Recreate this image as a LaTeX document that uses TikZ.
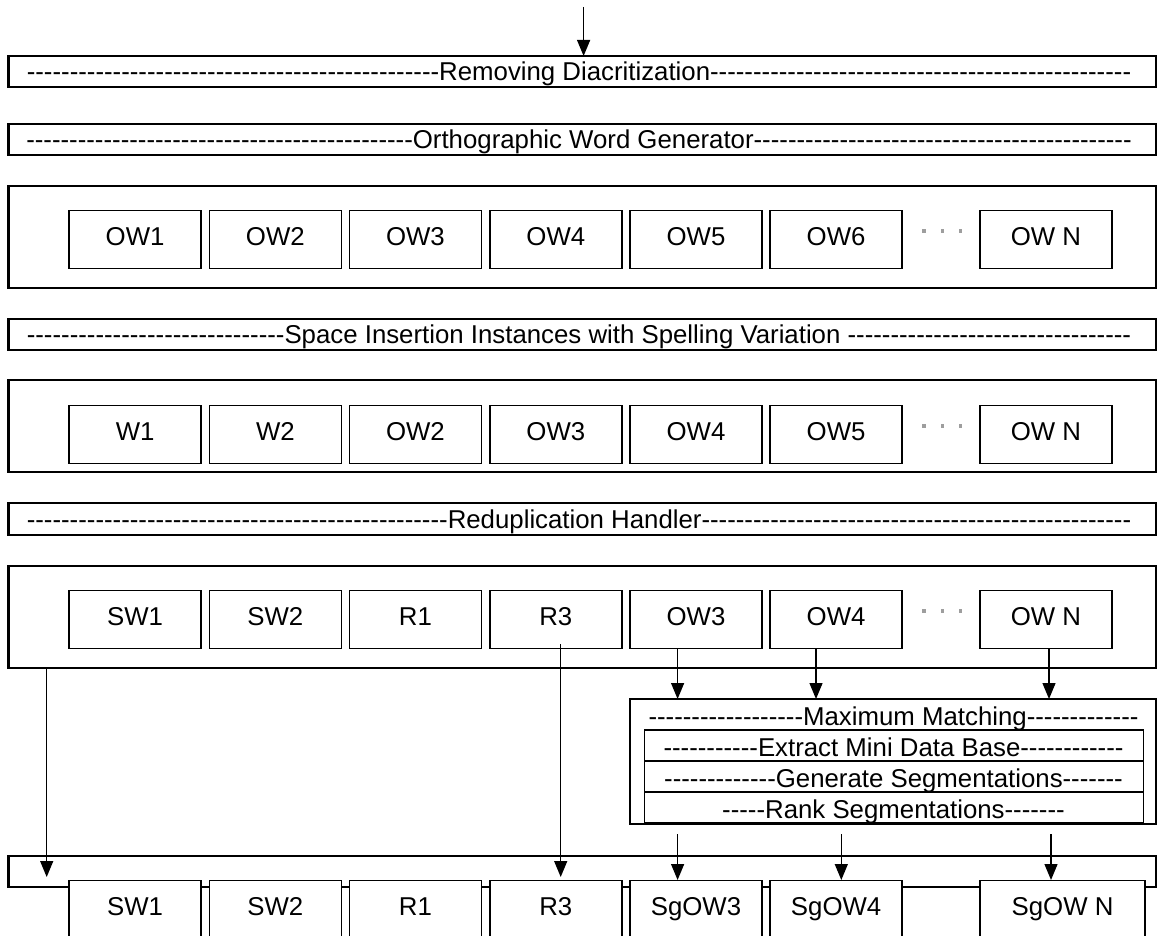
\documentclass[tikz,border=0pt]{standalone}
\usepackage{fontspec}
\newfontfamily\arialf{Liberation Sans}
\usetikzlibrary{arrows.meta}
% a run of n plain hyphens (kerns keep them from merging into dashes)
\ExplSyntaxOn
\NewDocumentCommand\dashrun{m}{\prg_replicate:nn{#1}{-\kern0pt}}
\ExplSyntaxOff

\begin{document}
\begin{tikzpicture}[x=1pt,y=-1pt,
  every node/.style={font=\arialf\fontsize{25.8pt}{30pt}\selectfont},
  frame/.style={draw, line width=2.2pt, inner sep=0pt, outer sep=0pt,
    minimum width=1147.5pt},
  mmframe/.style={draw, line width=2pt, inner sep=0pt, outer sep=0pt},
  mmrow/.style={draw, line width=1.8pt, inner sep=0pt, outer sep=0pt,
    minimum width=498.9pt},
  txt/.style={inner sep=0pt, anchor=base},
  cell/.style={draw, line width=1.4pt, fill=white, inner sep=0pt,
    minimum width=132pt, minimum height=57.6pt,
    text height=18.5pt, text depth=7pt},
  dotmark/.style={fill=black!38, inner sep=0pt, minimum size=3.5pt},
  arr/.style={line width=1.3pt, -{Triangle[length=16pt,width=13pt]}}]

\useasboundingbox (0,0) rectangle (1158,936);
\clip (0,0) rectangle (1158,936);

% ---- stage frames ----
\node[frame, minimum height=31.3pt] (rmd)  at (582.25,71.65)  {};
\node[frame, minimum height=31.3pt] (owg)  at (582.25,139.65) {};
\node[frame, minimum height=102pt]  (row1) at (582.25,236.7)  {};
\node[frame, minimum height=31pt]   (sis)  at (582.25,334.5)  {};
\node[frame, minimum height=92.3pt] (row2) at (582.25,426.15) {};
\node[frame, minimum height=31.7pt] (red)  at (582.25,519.15) {};
\node[frame, minimum height=102pt]  (row3) at (582.25,616.7)  {};
\node[frame, minimum height=31pt]   (outrow) at (582.25,871.2) {};

% ---- stage titles ----
\node[txt] (t1) at (579,80.7)  {\dashrun{48}Removing Diacritization\dashrun{49}};
\node[txt] (t2) at (579,148.7) {\dashrun{45}Orthographic Word Generator\dashrun{44}};
\node[txt] (t3) at (579,343.5) {\dashrun{30}Space Insertion Instances with Spelling Variation \dashrun{33}};
\node[txt] (t4) at (579,528.2) {\dashrun{49}Reduplication Handler\dashrun{50}};

% ---- word cells ----
\foreach \cx/\lab [count=\i] in {135.1/OW1, 275.35/OW2, 415.4/OW3, 555.85/OW4,
    695.95/OW5, 836.1/OW6, 1046/OW N}
  \node[cell] (a\i) at (\cx,239.5) {\lab};
\foreach \cx/\lab [count=\i] in {135.1/W1, 275.35/W2, 415.4/OW2, 555.85/OW3,
    695.95/OW4, 836.1/OW5, 1046/OW N}
  \node[cell] (b\i) at (\cx,434.5) {\lab};
\foreach \cx/\lab [count=\i] in {135.1/SW1, 275.35/SW2, 415.4/R1, 555.85/R3,
    695.95/OW3, 836.1/OW4, 1046/OW N}
  \node[cell] (c\i) at (\cx,619.5) {\lab};

% ---- ellipsis marks ----
\foreach \y [count=\k] in {231,426,611}
  \foreach \x [count=\j] in {924.2,942.5,960.5}
    \node[dotmark] (dot\k-\j) at (\x,\y) {};

% ---- maximum matching block ----
\node[mmframe, minimum width=526.5pt, minimum height=125pt] (mm) at (892.75,761.5) {};
\node[txt] (mmt) at (893.5,725.7) {\dashrun{18}Maximum Matching\dashrun{13}};
\node[mmrow, minimum height=30.7pt] (mmA) at (893.95,745.35) {};
\node[mmrow, minimum height=31.3pt] (mmB) at (893.95,776.35) {};
\node[mmrow, minimum height=30.7pt] (mmC) at (893.95,807.35) {};
\node[txt] (mmta) at (893.5,756.5) {\dashrun{11}Extract Mini Data Base\dashrun{12}};
\node[txt] (mmtb) at (893.5,787.3) {\dashrun{13}Generate Segmentations\dashrun{7}};
\node[txt] (mmtc) at (893.5,818)   {\dashrun{5}Rank Segmentations\dashrun{7}};

% ---- output cells ----
\foreach \cx/\lab [count=\i] in {135.1/SW1, 275.35/SW2, 415.4/R1, 555.85/R3,
    695.95/SgOW3, 836.1/SgOW4}
  \node[cell, minimum height=59pt] (o\i) at (\cx,910.2) {\lab};
\node[cell, minimum height=59pt, minimum width=165pt] (o7) at (1062.5,910.2) {SgOW N};

% ---- connectors ----
\coordinate (in0) at (583.6,7);
\draw[arr] (in0) -- (in0 |- rmd.north);

\coordinate (u1) at ([xshift=-18.35pt]c5.south);
\coordinate (u2) at ([xshift=-20.1pt]c6.south);
\coordinate (u3) at ([xshift=3pt]c7.south);
\foreach \u in {u1,u2,u3}
  \draw[arr] (\u) -- (\u |- mm.north);

\coordinate (s1) at (677.6,834);
\coordinate (s2) at (841.3,834);
\coordinate (s3) at (1051,834);
\draw[arr] (s1) -- (s1 |- o5.north);
\draw[arr] (s2) -- (s2 |- o6.north);
\draw[arr] (s3) -- (s3 |- o7.north);

\coordinate (dl) at (46.7,877);
\draw[arr] (dl |- row3.south) -- (dl);

\coordinate (r3a) at ([xshift=4.85pt,yshift=4.7pt]c4.south);
\coordinate (r3b) at (r3a |- dl);
\draw[arr] (r3a) -- (r3b);
\end{tikzpicture}
\end{document}
